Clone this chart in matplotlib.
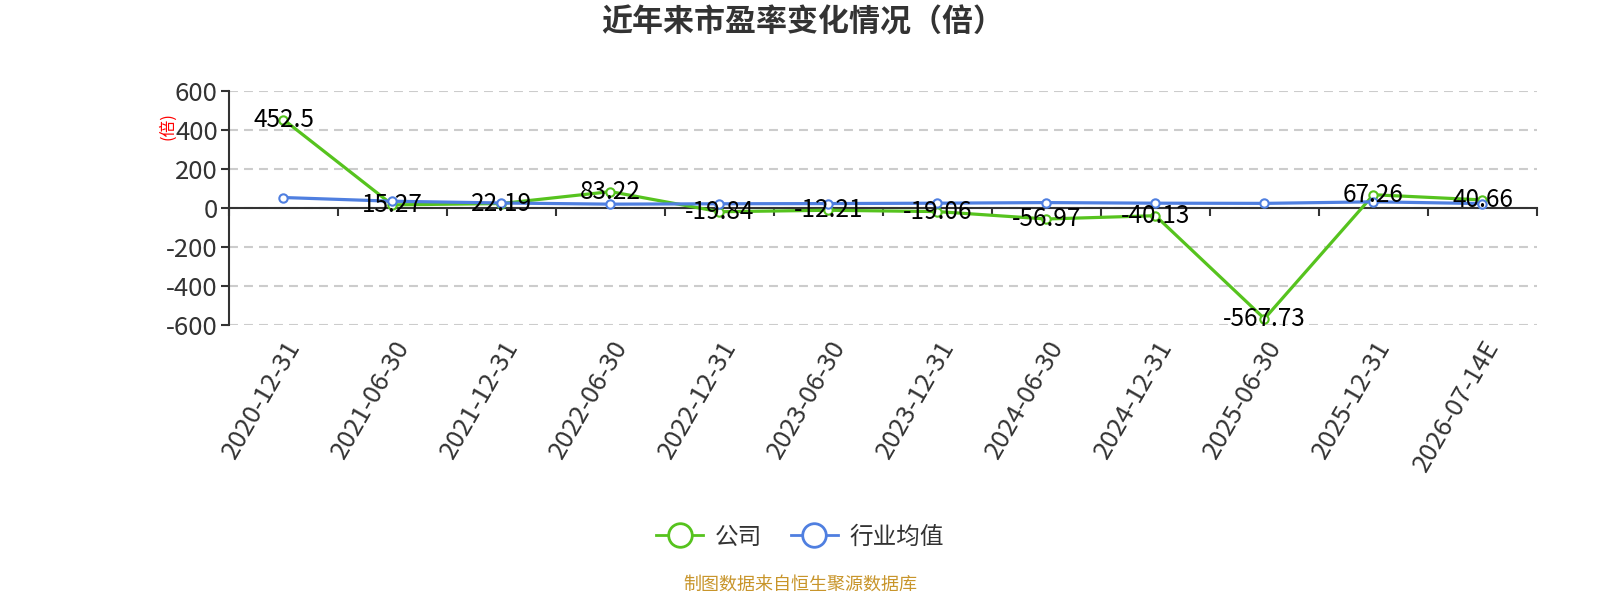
import numpy as np
import matplotlib
matplotlib.use("Agg")
import matplotlib.pyplot as plt
from matplotlib.lines import Line2D

plt.rcParams['font.family'] = ['Noto Sans CJK SC', 'DejaVu Sans']
plt.rcParams['axes.unicode_minus'] = False

# données
dates = ["2020-12-31", "2021-06-30", "2021-12-31", "2022-06-30", "2022-12-31",
         "2023-06-30", "2023-12-31", "2024-06-30", "2024-12-31", "2025-06-30",
         "2025-12-31", "2026-07-14E"]
pe_company = [452.5, 15.27, 22.19, 83.22, -19.84, -12.21, -19.06, -56.97,
              -40.13, -567.73, 67.26, 40.66]
pe_industry = [53, 34, 25, 19, 21, 22, 24, 27, 24, 23, 31, 22]

green = "#56c31e"
blue = "#4f7fe0"
grey = "#333333"

fig = plt.figure(figsize=(16, 6), dpi=100)
ax = fig.add_axes([0.1431, 0.4583, 0.8175, 0.3905])

x = np.arange(len(dates))

ax.plot(x, pe_company, color=green, lw=2.3, marker="o", ms=6,
        mfc="white", mec=green, mew=1.5, zorder=3)
ax.plot(x, pe_industry, color=blue, lw=2.3, marker="o", ms=6,
        mfc="white", mec=blue, mew=1.5, zorder=4)

for xi, v in zip(x, pe_company):
    ax.text(xi, v, f"{v:g}", ha="center", va="center", fontsize=17.5,
            color="black", zorder=6)

ax.set_xlim(-0.5, len(dates) - 0.5)
ax.set_ylim(-600, 600)
ax.set_yticks(np.arange(-600, 601, 200))
ax.yaxis.grid(True, color="#cccccc", lw=1.5, linestyle=(0, (4.3, 2.9)))
ax.set_axisbelow(True)

for s in ["top", "right"]:
    ax.spines[s].set_visible(False)
ax.spines["bottom"].set_position(("data", 0))
ax.spines["bottom"].set_color(grey)
ax.spines["bottom"].set_linewidth(1.5)
ax.spines["bottom"].set_zorder(2)
ax.spines["left"].set_color(grey)
ax.spines["left"].set_linewidth(1.5)

ax.set_xticks(x)
ax.set_xticklabels(dates, rotation=60, ha="right", va="top",
                   rotation_mode="anchor")
ax.set_xticks(np.arange(-0.5, len(dates)), minor=True)
ax.tick_params(axis="x", which="major", length=0, pad=92,
               labelsize=18.5, labelcolor=grey)
ax.tick_params(axis="x", which="minor", length=6, width=1.5, color=grey)
ax.tick_params(axis="y", length=6, width=1.5, color=grey,
               labelsize=18.5, labelcolor=grey, pad=2)

ax.set_ylabel("(倍)", color="red", fontsize=12, rotation=90)
ax.yaxis.set_label_coords(-0.040, 0.849)

fig.text(0.502, 1 - 23 / 600, "近年来市盈率变化情况（倍）", ha="center",
         va="center", fontsize=22.3, fontweight="bold", color=grey)

handles = [
    Line2D([], [], color=green, lw=2, marker="o", ms=17, mfc="white",
           mec=green, mew=2),
    Line2D([], [], color=blue, lw=2, marker="o", ms=17, mfc="white",
           mec=blue, mew=2),
]
fig.legend(handles, ["公司", "行业均值"], loc="center",
           bbox_to_anchor=(0.5, 1 - 537 / 600), ncol=2, frameon=False,
           fontsize=17, handlelength=2.0, handletextpad=0.5,
           columnspacing=1.2, labelcolor=grey)

fig.text(0.5, 1 - 585 / 600, "制图数据来自恒生聚源数据库", ha="center",
         va="center", fontsize=13, color="#c8952b")

fig.savefig("out.png", dpi=100)
